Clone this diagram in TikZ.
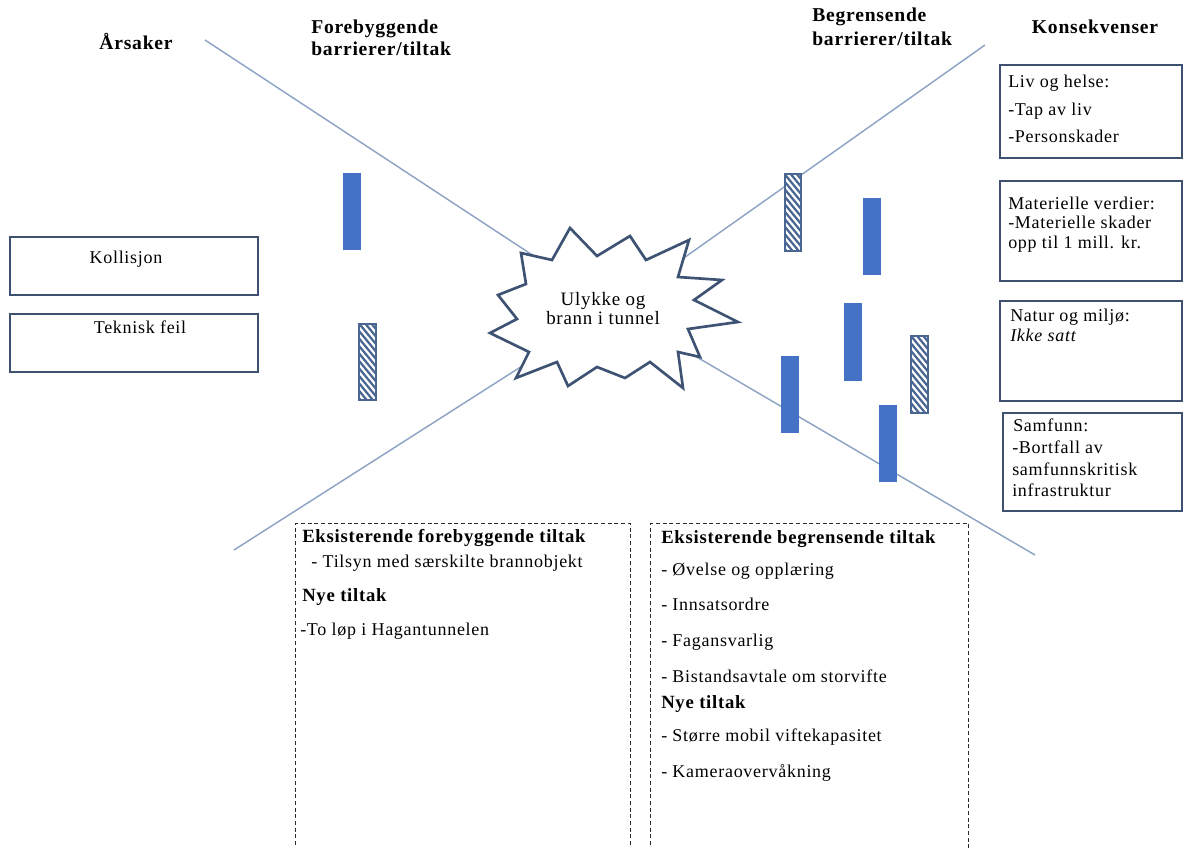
\documentclass[tikz,border=0pt]{standalone}
\usepackage{fontspec}
\setmainfont{Liberation Serif}[LetterSpace=4]
\begin{document}
\definecolor{barblue}{HTML}{4472C4}
\definecolor{hatchblue}{HTML}{4A6794}
\definecolor{boxline}{HTML}{3F5170}
\definecolor{crossline}{HTML}{8EA4C4}
\definecolor{starline}{HTML}{3E5373}
\definecolor{dashgray}{HTML}{2B2B2B}
\begin{tikzpicture}[x=0.75pt,y=-0.75pt,
  ln/.style={anchor=west, inner sep=0pt, text height=0.7em, text depth=0.2em,
    font=\fontsize{13.5}{16}\selectfont},
  hd/.style={ln, font=\fontsize{14}{16}\selectfont\bfseries},
  head/.style={ln, font=\fontsize{14.7}{17}\selectfont\bfseries},
  evtext/.style={ln, anchor=center, font=\fontsize{14.2}{16}\selectfont},
  cross/.style={draw=crossline, line width=1.1pt},
  causebox/.style={draw=boxline, line width=1.6pt, minimum width=186pt, minimum height=43.5pt, inner sep=0pt},
  conbox/.style={draw=boxline, line width=1.6pt, minimum width=136.5pt, inner sep=0pt},
  dashbox/.style={draw=dashgray, line width=1pt, dash pattern=on 3pt off 2pt,
    minimum height=270pt, inner sep=0pt, anchor=north west},
  solidbar/.style={fill=barblue, minimum width=13.5pt, minimum height=57.75pt, inner sep=0pt},
  hatchbar/.style={draw=hatchblue, line width=1.3pt, fill=white, minimum width=12.5pt,
    minimum height=57.5pt, inner sep=0pt,
    path picture={\foreach \k in {-4,...,13}{\draw[hatchblue, line width=1.7pt]
      ([yshift=-\k*5.6pt]path picture bounding box.north west) -- ++(14pt,-17pt);}}},
  starshape/.style={draw=starline, line width=2pt, fill=white, line join=miter}
]
\useasboundingbox (0,0) rectangle (1184,848);
\clip (0,0) rectangle (1184,848);

% the bow-tie axes meeting behind the event
\coordinate (c) at (613,308);
\coordinate (ul) at (205,40);
\coordinate (ur) at (985,45);
\coordinate (ll) at (234,550);
\coordinate (lr) at (1035,555);
\draw[cross] (ul) -- (c);
\draw[cross] (ur) -- (c);
\draw[cross] (ll) -- (c);
\draw[cross] (lr) -- (c);

% top event: explosion outline
\draw[starshape] (521,253) -- (552,260) -- (570,228) -- (597,256) -- (630,236)
  -- (646,260) -- (689,240) -- (678,277) -- (722,280) -- (694,300) -- (738,322)
  -- (688,329) -- (700,357) -- (678,352) -- (683,388) -- (650,362) -- (625,378)
  -- (597,367) -- (568,386) -- (557,362) -- (516,378) -- (529,352) -- (490,333)
  -- (517,319) -- (498,295) -- (526,284) -- cycle;
\node[evtext] (ev1) at (603,302) {Ulykke og};
\node[evtext] (ev2) at (603,321) {brann i tunnel};

% column headings
\node[head, anchor=center] (h1) at (136,46) {Årsaker};
\node[head] (h2a) at (311,30) {Forebyggende};
\node[head] (h2b) at (311,52) {barrierer/tiltak};
\node[head] (h3a) at (812,18) {Begrensende};
\node[head] (h3b) at (812,42) {barrierer/tiltak};
\node[head, anchor=center] (h4) at (1095,30) {Konsekvenser};

% causes
\node[causebox] (kol) at (134,266) {};
\node[ln, anchor=center] (kolT) at (126,260) {Kollisjon};
\node[causebox, minimum height=44pt] (tek) at (134,343) {};
\node[ln, anchor=center] (tekT) at (140,330) {Teknisk feil};

% consequences
\node[conbox, minimum height=69.75pt] (liv) at (1091,111.5) {};
\node[ln] (liv1) at (1008,84) {Liv og helse:};
\node[ln] (liv2) at (1008,112) {-Tap av liv};
\node[ln] (liv3) at (1008,139) {-Personskader};

\node[conbox, minimum height=75pt] (mat) at (1091,231) {};
\node[ln] (mat1) at (1008,206) {Materielle verdier:};
\node[ln] (mat2) at (1008,225) {-Materielle skader};
\node[ln] (mat3) at (1008,245) {opp til 1 mill. kr.};

\node[conbox, minimum height=75pt] (nat) at (1091,351) {};
\node[ln] (nat1) at (1010,318) {Natur og miljø:};
\node[ln] (nat2) at (1010,338) {\itshape Ikke satt};

\node[conbox, minimum width=134.25pt, minimum height=73pt] (sam) at (1092.5,462) {};
\node[ln] (sam1) at (1013,428) {Samfunn:};
\node[ln] (sam2) at (1012,450) {-Bortfall av};
\node[ln] (sam3) at (1012,472) {samfunnskritisk};
\node[ln] (sam4) at (1012,493) {infrastruktur};

% preventive barriers
\node[solidbar] (pb1) at (352,212) {};
\node[hatchbar] (pb2) at (367.5,362) {};

% mitigating barriers
\node[hatchbar] (mb1) at (793,212.5) {};
\node[solidbar] (mb2) at (872,237) {};
\node[solidbar] (mb3) at (853,342) {};
\node[hatchbar] (mb4) at (919.5,374.5) {};
\node[solidbar] (mb5) at (790,394) {};
\node[solidbar] (mb6) at (888,443) {};

% measure lists
\node[dashbox, minimum width=251pt] (fore) at (295,523) {};
\node[hd] (f1) at (302,539) {Eksisterende forebyggende tiltak};
\node[ln] (f2) at (306,564) {\ - Tilsyn med særskilte brannobjekt};
\node[hd] (f3) at (302,598) {Nye tiltak};
\node[ln] (f4) at (300,632) {-To løp i Hagantunnelen};

\node[dashbox, minimum width=238.5pt] (begr) at (650,523) {};
\node[hd] (b1) at (661,540) {Eksisterende begrensende tiltak};
\node[ln] (b2) at (661,572) {- Øvelse og opplæring};
\node[ln] (b3) at (661,607) {- Innsatsordre};
\node[ln] (b4) at (661,643) {- Fagansvarlig};
\node[ln] (b5) at (661,679) {- Bistandsavtale om storvifte};
\node[hd] (b6) at (661,705) {Nye tiltak};
\node[ln] (b7) at (661,738) {- Større mobil viftekapasitet};
\node[ln] (b8) at (661,774) {- Kameraovervåkning};
\end{tikzpicture}
\end{document}
